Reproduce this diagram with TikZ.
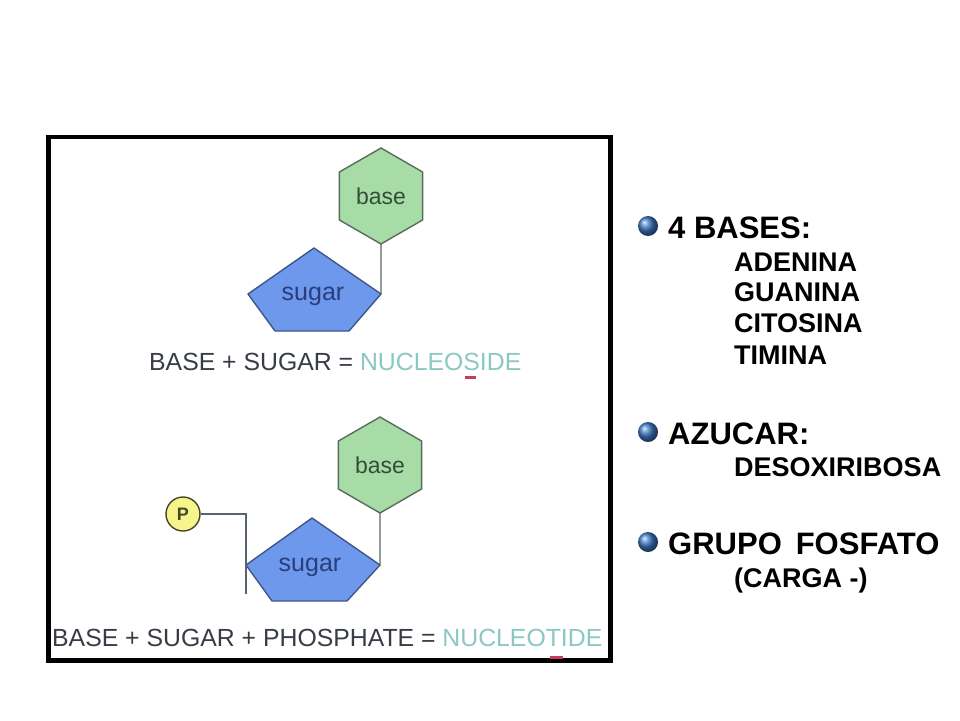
\documentclass[tikz,border=0pt]{standalone}
\usepackage{fontspec}
\setmainfont{Liberation Sans}
\usepackage{xcolor}
\usetikzlibrary{shapes.geometric}

\definecolor{hexgreen}{RGB}{168,220,166}
\definecolor{hexedge}{RGB}{88,108,92}
\definecolor{sugarblue}{RGB}{110,152,236}
\definecolor{sugaredge}{RGB}{62,86,138}
\definecolor{sugartext}{RGB}{40,62,125}
\definecolor{basetext}{RGB}{50,78,58}
\definecolor{eqgrey}{RGB}{55,60,70}
\definecolor{nucteal}{RGB}{140,200,195}
\definecolor{phosyellow}{RGB}{245,245,140}
\definecolor{phosedge}{RGB}{70,70,40}
\definecolor{bondgrey}{RGB}{90,100,110}
\definecolor{markred}{RGB}{200,60,90}
\definecolor{bulletblue}{RGB}{60,120,195}

\tikzset{
    basehex/.style={regular polygon, regular polygon sides=6, shape border rotate=30,
        minimum size=96pt, inner sep=0pt, outer sep=0pt, draw=hexedge, fill=hexgreen,
        line width=1.4pt, text=basetext, font=\fontsize{23}{25}\selectfont},
    sugarpoly/.style={draw=sugaredge, fill=sugarblue, line width=1.4pt, line join=round},
    sugarlabel/.style={text=sugartext, font=\fontsize{25}{27}\selectfont},
    bond/.style={draw=bondgrey, line width=1.4pt},
    eqtext/.style={anchor=base west, inner sep=0pt, text=eqgrey, font=\fontsize{24.8}{26}\selectfont},
    head/.style={anchor=base west, inner sep=0pt, font=\bfseries\fontsize{31}{33}\selectfont},
    item/.style={anchor=base west, inner sep=0pt, font=\bfseries\fontsize{27}{29}\selectfont}
}

\begin{document}
\begin{tikzpicture}[x=1pt, y=-1pt]
        \useasboundingbox (0, 0) rectangle (960, 720);
        \fill[white] (0, 0) rectangle (960, 720);

        \draw[line width=4.5pt] (48.5, 137) rectangle (610.5, 660.5);

        \node[basehex] (base1) at (381, 196) {base};
        \coordinate (sr1) at (381, 294);
        \coordinate (st1) at (314, 248);
        \coordinate (sl1) at (248, 294);
        \coordinate (sbl1) at (275, 331);
        \coordinate (sbr1) at (349, 331);
        \filldraw[sugarpoly] (sr1) -- (st1) -- (sl1) -- (sbl1) -- (sbr1) -- cycle;
        \node[sugarlabel] (sugar1) at (313, 296) {sugar};
        \draw[bond] (base1.south) -- (sr1);

        \node[eqtext] (eq1) at (149, 370)
            {BASE + SUGAR = \textcolor{nucteal}{NUCLEOSIDE}};
        \fill[markred] (465, 376) rectangle (476, 379);

        \node[basehex] (base2) at (380, 465) {base};
        \coordinate (sr2) at (380, 565);
        \coordinate (st2) at (312, 518);
        \coordinate (sl2) at (246, 565);
        \coordinate (sbl2) at (272, 601);
        \coordinate (sbr2) at (347, 601);
        \filldraw[sugarpoly] (sr2) -- (st2) -- (sl2) -- (sbl2) -- (sbr2) -- cycle;
        \node[sugarlabel] (sugar2) at (310, 567) {sugar};
        \draw[bond] (base2.south) -- (sr2);

        \node[circle, draw=phosedge, fill=phosyellow, line width=1.4pt, minimum size=34pt,
            inner sep=0pt, font=\bfseries\fontsize{18}{20}\selectfont, text=phosedge]
            (phos) at (183, 514) {P};
        \coordinate (pknee) at (246, 514);
        \coordinate (ptail) at (246, 594);
        \draw[bond] (phos.east) -- (pknee) -- (ptail);

        \node[eqtext] (eq2) at (52, 646)
            {BASE + SUGAR + PHOSPHATE = \textcolor{nucteal}{NUCLEOTIDE}};
        \fill[markred] (550, 656) rectangle (563, 659);

        \shade[ball color=bulletblue] (648, 226) circle (10);
        \node[head] (bases) at (668, 238) {4 BASES:};
        \node[item] (ade) at (734, 271) {ADENINA};
        \node[item] (gua) at (734, 301) {GUANINA};
        \node[item] (cit) at (734, 332) {CITOSINA};
        \node[item] (tim) at (734, 364) {TIMINA};

        \shade[ball color=bulletblue] (648, 432) circle (10);
        \node[head] (azu) at (668, 444) {AZUCAR:};
        \node[item] (deso) at (734, 476) {DESOXIRIBOSA};

        \shade[ball color=bulletblue] (648, 542) circle (10);
        \node[head] (grupo) at (668, 554) {GRUPO\hspace{0.45em}FOSFATO};
        \node[item] (carga) at (734, 587) {(CARGA -)};
\end{tikzpicture}
\end{document}
